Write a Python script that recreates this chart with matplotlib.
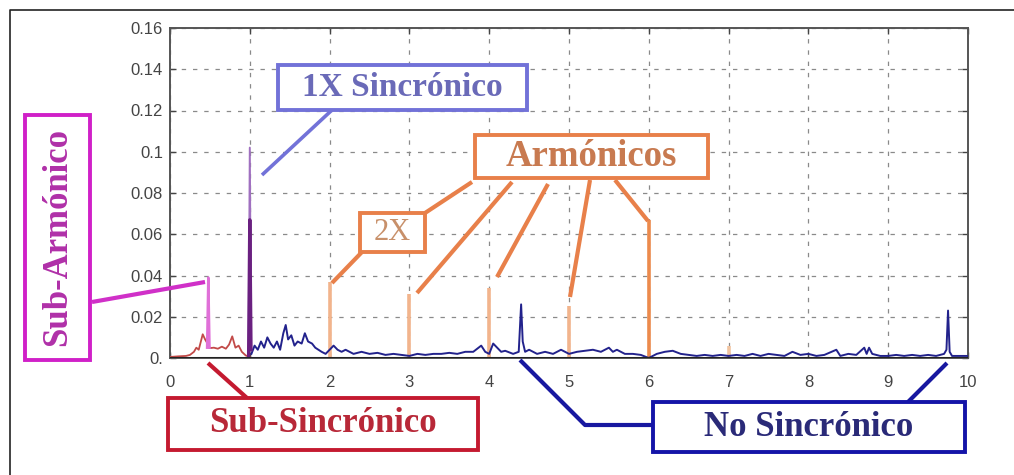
import matplotlib
matplotlib.use("Agg")
import matplotlib.pyplot as plt
from matplotlib.lines import Line2D
from matplotlib.patches import Rectangle

# --- data (x = orders of running speed, y = amplitude) ---
sub_sync_x = [0.0, 0.1, 0.2, 0.25, 0.3, 0.33, 0.36, 0.41, 0.44, 0.47, 0.5, 0.55,
              0.6, 0.65, 0.7, 0.74, 0.78, 0.82, 0.86, 0.9, 0.95, 1.0]
sub_sync_y = [0.0005, 0.0008, 0.001, 0.0015, 0.003, 0.005, 0.004, 0.0115, 0.009,
              0.007, 0.0048, 0.005, 0.0045, 0.0055, 0.0045, 0.0065, 0.0105, 0.005,
              0.006, 0.003, 0.0012, 0.0005]

sub_harm_x = [0.465, 0.48, 0.495]
sub_harm_y = [0.005, 0.039, 0.005]

sync_x = [0.985, 1.0, 1.015]
sync_y = [0.0, 0.102, 0.004]
sync_core_y = [0.0, 0.067, 0.004]

harm_x = [2, 3, 4, 5, 6, 7]
harm_y = [0.037, 0.031, 0.034, 0.025, 0.067, 0.006]

non_sync_x = [1.02, 1.06, 1.10, 1.14, 1.18, 1.22, 1.26, 1.30, 1.34, 1.38, 1.42,
              1.45, 1.48, 1.52, 1.56, 1.60, 1.65, 1.69, 1.73, 1.78, 1.82, 1.86,
              1.90, 1.95, 2.05, 2.10, 2.15, 2.2, 2.3, 2.4, 2.5, 2.6, 2.7, 2.8,
              2.9, 3.0, 3.1, 3.2, 3.3, 3.4, 3.5, 3.6, 3.7, 3.8, 3.9, 3.95, 4.0,
              4.05, 4.1, 4.15, 4.2, 4.3, 4.37, 4.40, 4.42, 4.45, 4.5, 4.6, 4.7,
              4.8, 4.9, 5.0, 5.1, 5.2, 5.3, 5.4, 5.5, 5.55, 5.6, 5.7, 5.8, 5.9,
              6.0, 6.1, 6.2, 6.3, 6.4, 6.5, 6.6, 6.7, 6.8, 6.9, 7.0, 7.1, 7.2,
              7.3, 7.4, 7.5, 7.6, 7.7, 7.8, 7.9, 8.0, 8.1, 8.2, 8.35, 8.4, 8.5,
              8.6, 8.7, 8.73, 8.76, 8.8, 8.9, 9.0, 9.1, 9.2, 9.3, 9.4, 9.5, 9.6,
              9.7, 9.73, 9.75, 9.77, 9.8, 9.9, 10.0]
non_sync_y = [0.002, 0.006, 0.004, 0.008, 0.005, 0.010, 0.007, 0.005, 0.008,
              0.004, 0.012, 0.016, 0.009, 0.011, 0.006, 0.008, 0.007, 0.012,
              0.008, 0.007, 0.005, 0.004, 0.003, 0.002, 0.006, 0.004, 0.003,
              0.004, 0.002, 0.003, 0.002, 0.0025, 0.0015, 0.002, 0.0015, 0.001,
              0.002, 0.0015, 0.002, 0.002, 0.0025, 0.002, 0.003, 0.003, 0.006,
              0.003, 0.002, 0.007, 0.005, 0.003, 0.0035, 0.002, 0.003, 0.026,
              0.008, 0.003, 0.004, 0.002, 0.003, 0.002, 0.004, 0.002, 0.003,
              0.0035, 0.004, 0.003, 0.005, 0.003, 0.004, 0.002, 0.002, 0.0015,
              0.0, 0.002, 0.003, 0.0035, 0.002, 0.0015, 0.001, 0.0015, 0.001,
              0.0015, 0.001, 0.0015, 0.001, 0.002, 0.001, 0.002, 0.0015, 0.001,
              0.003, 0.0015, 0.002, 0.001, 0.0015, 0.004, 0.001, 0.002, 0.0015,
              0.005, 0.002, 0.005, 0.002, 0.001, 0.001, 0.0015, 0.001, 0.0015,
              0.001, 0.0015, 0.001, 0.002, 0.004, 0.023, 0.003, 0.001, 0.001,
              0.001]

x_ticks = list(range(11))
y_ticks = [0, 0.02, 0.04, 0.06, 0.08, 0.10, 0.12, 0.14, 0.16]
y_tick_labels = ["0.", "0.02", "0.04", "0.06", "0.08", "0.1", "0.12", "0.14", "0.16"]

W, H = 1014, 475
SERIF = ["Liberation Serif", "DejaVu Serif"]


def fxy(px, py):
    """pixel position (from top-left) -> figure fraction"""
    return px / W, 1 - py / H


def leader(fig, pts, color, lw=3.0):
    xs = [p[0] / W for p in pts]
    ys = [1 - p[1] / H for p in pts]
    fig.add_artist(Line2D(xs, ys, transform=fig.transFigure, color=color,
                          lw=lw, solid_capstyle="butt", zorder=5))


def label_box(fig, x0, y0, x1, y1, text, edge, tcolor, size, rotation=0,
              weight="bold"):
    fx0, fy1 = fxy(x0, y1)
    fig.add_artist(Rectangle((fx0, fy1), (x1 - x0) / W, (y1 - y0) / H,
                             transform=fig.transFigure, fill=True,
                             facecolor="white", edgecolor=edge, lw=2.8,
                             zorder=6))
    cx, cy = fxy((x0 + x1) / 2, (y0 + y1) / 2)
    fig.text(cx, cy, text, ha="center", va="center", color=tcolor,
             fontsize=size, fontweight=weight, family=SERIF,
             rotation=rotation, zorder=7)


fig = plt.figure(figsize=(W / 100, H / 100), dpi=100)
fig.patch.set_facecolor("white")

ax = fig.add_axes([170 / W, (H - 358) / H, (968 - 170) / W, (358 - 28) / H])

ax.vlines(harm_x, 0, harm_y, colors=["#f2b48c"] * 4 + ["#ec8a4c", "#f2c4a0"],
          lw=2.6, zorder=3)
ax.plot(non_sync_x, non_sync_y, color="#22228c", lw=1.4, zorder=4)
ax.plot(sub_sync_x, sub_sync_y, color="#c24a48", lw=1.3, zorder=4)
ax.plot(sub_harm_x, sub_harm_y, color="#e070d8", lw=1.8, zorder=4)
ax.plot(sync_x, sync_y, color="#a070c0", lw=1.4, zorder=4)
ax.plot(sync_x, sync_core_y, color="#6a2080", lw=2.4, zorder=4)
ax.axhline(0, color="#222222", lw=2.2, zorder=5)

ax.set_xlim(0, 10)
ax.set_ylim(0, 0.16)
ax.set_xticks(x_ticks)
ax.set_xticklabels([str(t) for t in x_ticks])
ax.set_yticks(y_ticks)
ax.set_yticklabels(y_tick_labels)
ax.grid(True, color="#8a8a8a", lw=0.9, linestyle=(0, (3.5, 5.5)))
ax.set_axisbelow(True)
ax.tick_params(direction="in", length=4, width=1, colors="#444444",
               labelcolor="#444444", labelsize=12, top=True, right=True)
ax.tick_params(axis="x", pad=12)
ax.tick_params(axis="y", pad=5)
for lbl in ax.get_xticklabels() + ax.get_yticklabels():
    lbl.set_family(["Liberation Sans", "DejaVu Sans"])
for sp in ax.spines.values():
    sp.set_color("#555555")
    sp.set_linewidth(1.4)

# outer frame of the picture (top and left edges visible)
leader(fig, [(10, 475), (10, 10), (1014, 10)], "#222222", lw=1.2)

# annotation leaders
leader(fig, [(262, 175), (332, 110)], "#7272d8", lw=2.6)
orange = "#e8804a"
leader(fig, [(425, 213), (472, 182)], orange)
leader(fig, [(362, 252), (332, 283)], orange)
leader(fig, [(512, 182), (417, 293)], orange)
leader(fig, [(548, 184), (497, 277)], orange)
leader(fig, [(590, 180), (570, 297)], orange)
leader(fig, [(615, 180), (648, 221)], orange)
leader(fig, [(92, 302), (205, 282)], "#d030c8")
leader(fig, [(208, 363), (247, 398)], "#c41a30")
leader(fig, [(520, 360), (585, 425), (653, 425)], "#1818a0")
leader(fig, [(908, 402), (947, 363)], "#1818a0")

# annotation boxes
label_box(fig, 278, 65, 527, 110, "1X Sincrónico", "#7272d8", "#6a6ab8", 24)
label_box(fig, 475, 135, 708, 178, "Armónicos", orange, "#c87a50", 26.5)
label_box(fig, 360, 213, 425, 252, "2X", orange, "#c8906a", 22, weight="normal")
label_box(fig, 25, 115, 90, 360, "Sub-Armónico", "#d020c8", "#b030a8", 25,
          rotation=90)
label_box(fig, 168, 398, 478, 450, "Sub-Sincrónico", "#c41a30", "#b82838", 25)
label_box(fig, 653, 402, 965, 452, "No Sincrónico", "#1414a8", "#2a2a78", 25)

fig.savefig("out.png", dpi=100)
